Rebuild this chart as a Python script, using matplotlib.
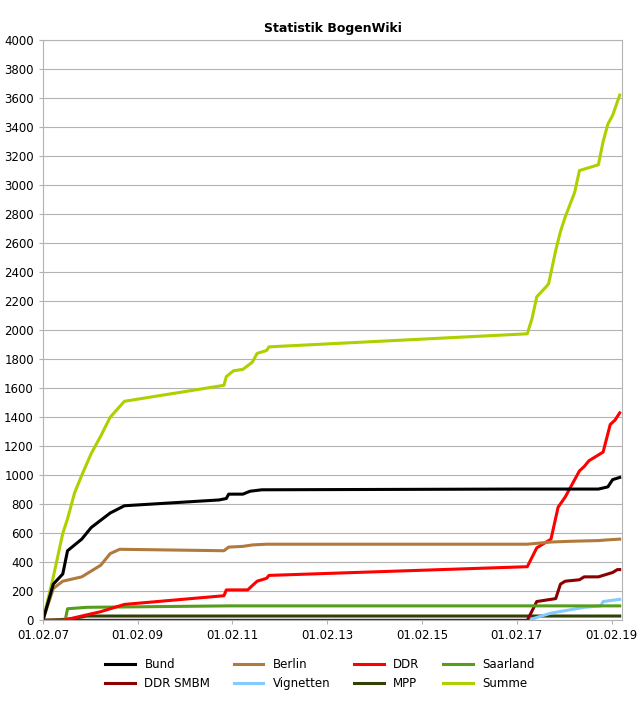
import matplotlib
matplotlib.use('Agg')
import matplotlib.pyplot as plt

# x in fractional years
summe_x = [2007.08, 2007.3, 2007.5, 2007.6, 2007.75, 2007.9, 2008.1, 2008.3, 2008.5, 2008.8, 2010.9, 2010.95,
           2011.1, 2011.3, 2011.5, 2011.6, 2011.8, 2011.85, 2017.3, 2017.4, 2017.5, 2017.7, 2017.75, 2017.9,
           2018.0, 2018.1, 2018.3, 2018.4, 2018.8, 2018.9, 2019.0, 2019.1, 2019.25]
summe_y = [0, 300, 600, 700, 880, 1000, 1150, 1270, 1400, 1510, 1620, 1680,
           1720, 1730, 1780, 1840, 1860, 1885, 1975, 2080, 2230, 2300, 2320, 2550,
           2680, 2780, 2950, 3100, 3140, 3300, 3420, 3480, 3620]
bund_x = [2007.08, 2007.3, 2007.5, 2007.6, 2007.9, 2008.1, 2008.5, 2008.8, 2010.8, 2010.95, 2011.0, 2011.3,
          2011.45, 2011.7, 2017.0, 2018.8, 2019.0, 2019.1, 2019.25]
bund_y = [0, 250, 320, 480, 560, 640, 740, 790, 830, 840, 870, 870, 890, 900, 905, 905, 920, 970, 985]
berlin_x = [2007.08, 2007.3, 2007.5, 2007.9, 2008.3, 2008.5, 2008.7, 2010.9, 2011.0, 2011.3, 2011.5, 2011.8,
            2017.3, 2017.8, 2018.2, 2018.8, 2019.0, 2019.25]
berlin_y = [0, 220, 270, 300, 380, 460, 490, 480, 505, 510, 520, 525, 525, 540, 545, 550, 555, 560]
ddr_x = [2007.08, 2007.5, 2007.9, 2008.3, 2008.6, 2008.8, 2010.9, 2010.95, 2011.4, 2011.6, 2011.8, 2011.85,
         2017.3, 2017.5, 2017.8, 2017.95, 2018.1, 2018.4, 2018.5, 2018.6, 2018.9, 2019.05, 2019.15, 2019.25]
ddr_y = [0, 0, 30, 60, 90, 110, 170, 210, 210, 270, 290, 310,
         370, 500, 560, 780, 850, 1030, 1060, 1100, 1160, 1350, 1380, 1430]
saar_x = [2007.08, 2007.55, 2007.6, 2008.0, 2011.0, 2019.25]
saar_y = [0, 0, 80, 90, 100, 100]
smbm_x = [2007.08, 2017.3, 2017.5, 2017.9, 2018.0, 2018.1, 2018.4, 2018.5, 2018.8, 2019.0, 2019.1, 2019.2, 2019.25]
smbm_y = [0, 0, 130, 150, 250, 270, 280, 300, 300, 320, 330, 350, 350]
vign_x = [2007.08, 2017.3, 2017.8, 2018.5, 2018.85, 2018.9, 2019.25]
vign_y = [0, 0, 50, 90, 100, 130, 145]
mpp_x = [2007.08, 2007.7, 2008.0, 2019.25]
mpp_y = [0, 10, 30, 30]

series = [
    ('Bund', bund_x, bund_y, 'black'),
    ('Berlin', berlin_x, berlin_y, '#b07a3c'),
    ('DDR', ddr_x, ddr_y, '#ff0000'),
    ('Saarland', saar_x, saar_y, '#579d1c'),
    ('DDR SMBM', smbm_x, smbm_y, '#8b0000'),
    ('Vignetten', vign_x, vign_y, '#83caff'),
    ('MPP', mpp_x, mpp_y, '#314004'),
    ('Summe', summe_x, summe_y, '#aecf00'),
]

fig = plt.figure(figsize=(6.4, 7.01), dpi=100)
ax = fig.add_axes([0.067, 0.115, 0.905, 0.828])
handles = {}
for name, x, y, c in series[::-1]:
    handles[name], = ax.plot(x, y, color=c, lw=2.2, label=name)

ax.set_xlim(2007.08, 2019.3)
ax.set_ylim(0, 4000)
ax.set_yticks(range(0, 4001, 200))
ticks = [2007.08 + 2 * i for i in range(7)]
ax.set_xticks(ticks)
ax.set_xticklabels(['01.02.%02d' % (7 + 2 * i) for i in range(7)])
ax.tick_params(labelsize=8.5, length=3, color='#b3b3b3')
ax.grid(axis='y', color='#b3b3b3', lw=0.8)
ax.set_axisbelow(True)
for s in ax.spines.values():
    s.set_color('#b3b3b3')
ax.set_title('Statistik BogenWiki', fontsize=9, fontweight='bold')

# legend filled row-wise: 2 rows x 4 columns
names = [s[0] for s in series]
order = [0, 4, 1, 5, 2, 6, 3, 7]
fig.legend([handles[names[i]] for i in order], [names[i] for i in order],
           loc='lower center', ncol=4, frameon=False, fontsize=8.5,
           bbox_to_anchor=(0.5, 0.0), handlelength=2.5, columnspacing=2.0)

plt.savefig('out.png', dpi=100)
